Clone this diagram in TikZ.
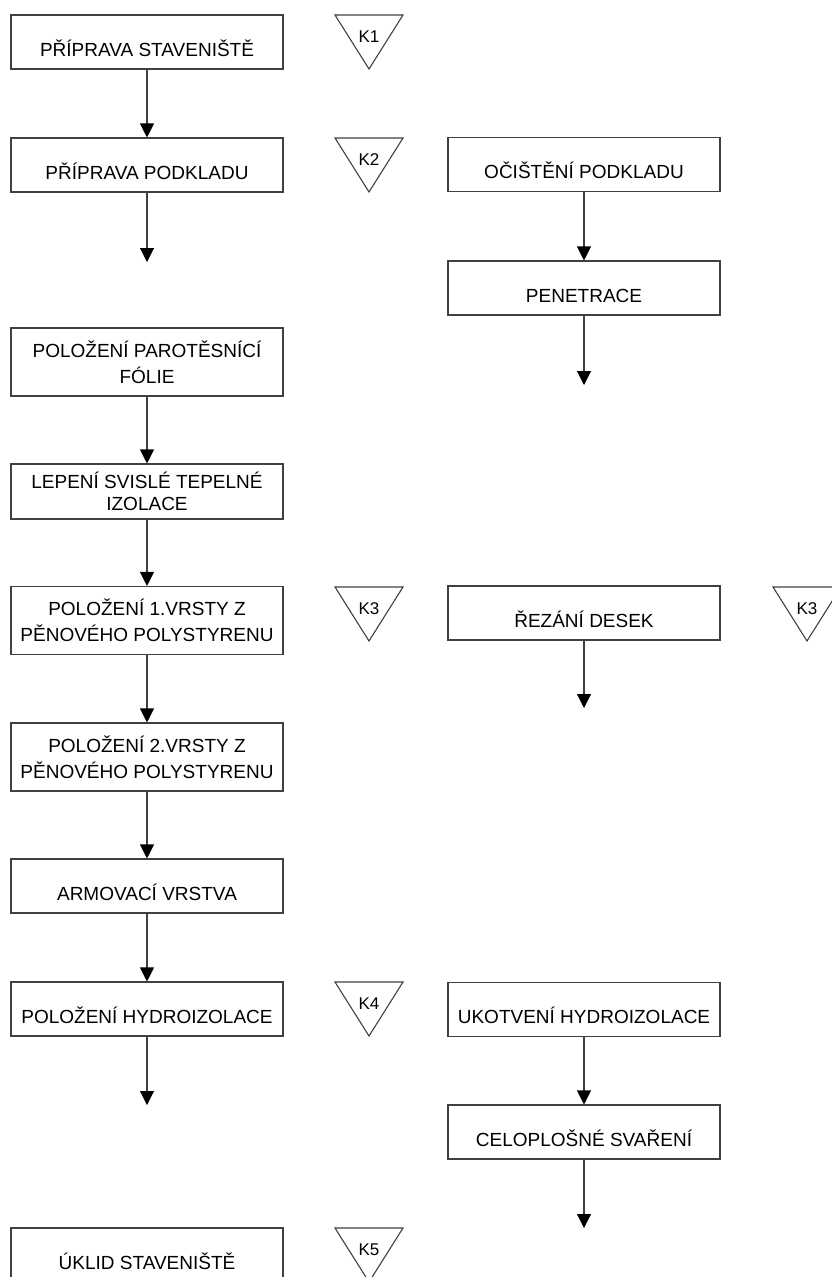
\documentclass[tikz,border=0pt]{standalone}
\usepackage{fontspec}
\setmainfont{Liberation Sans}
\usetikzlibrary{arrows.meta}

\begin{document}
\begin{tikzpicture}[
    x=1pt, y=-1pt,
    box/.style={rectangle, draw=black!75, line width=1.1pt, minimum width=272pt, inner xsep=3pt, inner ysep=2pt, text=black, font=\fontsize{19}{26}\selectfont},
    onebox/.style={box, minimum height=54pt, text height=28pt, text depth=0pt},
    twobox/.style={box, minimum height=68pt, align=center},
    arrow/.style={-{Triangle[width=14pt,length=14pt,color=black]}, draw=black!75, line width=1.1pt},
    ktri/.style={draw=black!75, line width=1.1pt},
    klabel/.style={inner sep=0pt, text=black, font=\fontsize{17}{17}\selectfont}
]
\useasboundingbox (0,0) rectangle (832,1277);

% Main sequence
\node[onebox] (priprava) at (147,42) {PŘÍPRAVA STAVENIŠTĚ};
\node[onebox] (podklad) at (147,165) {PŘÍPRAVA PODKLADU};
\node[twobox] (folie) at (147,362) {POLOŽENÍ PAROTĚSNÍCÍ\\FÓLIE};
\node[twobox, minimum height=55pt, font=\fontsize{19}{22}\selectfont] (izolace) at (147,491.5) {LEPENÍ SVISLÉ TEPELNÉ\\IZOLACE};
\node[twobox] (vrstva1) at (147,620.5) {POLOŽENÍ 1.VRSTY Z\\PĚNOVÉHO POLYSTYRENU};
\node[twobox] (vrstva2) at (147,757) {POLOŽENÍ 2.VRSTY Z\\PĚNOVÉHO POLYSTYRENU};
\node[onebox] (armovani) at (147,886) {ARMOVACÍ VRSTVA};
\node[onebox] (hydro) at (147,1009) {POLOŽENÍ HYDROIZOLACE};
\node[onebox] (uklid) at (147,1255) {ÚKLID STAVENIŠTĚ};

% Side processes
\node[onebox] (ocisteni) at (584,164.5) {OČIŠTĚNÍ PODKLADU};
\node[onebox] (penetrace) at (584,288) {PENETRACE};
\node[onebox] (rezani) at (584,613) {ŘEZÁNÍ DESEK};
\node[onebox] (ukotveni) at (584,1009.5) {UKOTVENÍ HYDROIZOLACE};
\node[onebox] (svareni) at (584,1132) {CELOPLOŠNÉ SVAŘENÍ};

% Open arrow ends
\coordinate (podkladend) at (147,262);
\coordinate (hydroend) at (147,1105);
\coordinate (penetraceend) at (584,385);
\coordinate (rezaniend) at (584,708);
\coordinate (svareniend) at (584,1228);

% Control points
\draw[ktri] (335,15) -- (403,15) -- (369,69) -- cycle;
\node[klabel] (k1) at (369,37) {K1};
\draw[ktri] (335,138) -- (403,138) -- (369,192) -- cycle;
\node[klabel] (k2) at (369,160) {K2};
\draw[ktri] (335,587) -- (403,587) -- (369,641) -- cycle;
\node[klabel] (k3) at (369,609) {K3};
\draw[ktri] (773,587) -- (841,587) -- (807,641) -- cycle;
\node[klabel] (k3b) at (807,609) {K3};
\draw[ktri] (335,982) -- (403,982) -- (369,1036) -- cycle;
\node[klabel] (k4) at (369,1004) {K4};
\draw[ktri] (335,1228) -- (403,1228) -- (369,1282) -- cycle;
\node[klabel] (k5) at (369,1250) {K5};

% Connections
\draw[arrow] (priprava) -- (podklad);
\draw[arrow] (podklad) -- (podkladend);
\draw[arrow] (folie) -- (izolace);
\draw[arrow] (izolace) -- (vrstva1);
\draw[arrow] (vrstva1) -- (vrstva2);
\draw[arrow] (vrstva2) -- (armovani);
\draw[arrow] (armovani) -- (hydro);
\draw[arrow] (hydro) -- (hydroend);

\draw[arrow] (ocisteni) -- (penetrace);
\draw[arrow] (penetrace) -- (penetraceend);
\draw[arrow] (rezani) -- (rezaniend);
\draw[arrow] (ukotveni) -- (svareni);
\draw[arrow] (svareni) -- (svareniend);

\end{tikzpicture}
\end{document}
